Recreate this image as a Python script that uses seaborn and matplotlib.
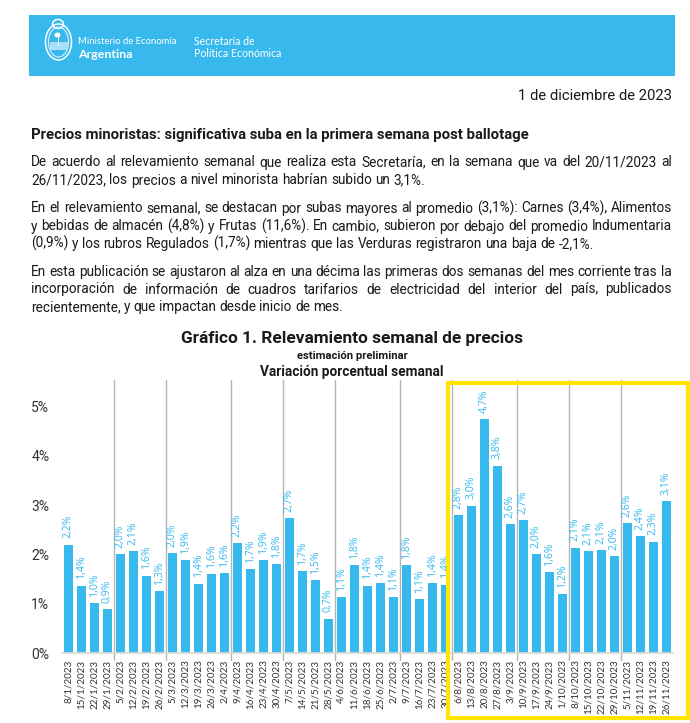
# boletin de precios: grafico semanal con encabezado y texto
import pandas as pd
import matplotlib.pyplot as plt
from matplotlib.patches import Rectangle, Ellipse
import seaborn as sns

sns.set_theme(style='white')
plt.rcParams['font.family'] = ['Roboto', 'DejaVu Sans']

BLUE = '#37b9ee'
INK = '#1a1a1a'

dates = ['8/1/2023', '15/1/2023', '22/1/2023', '29/1/2023',
         '5/2/2023', '12/2/2023', '19/2/2023', '26/2/2023',
         '5/3/2023', '12/3/2023', '19/3/2023', '26/3/2023', '2/4/2023',
         '9/4/2023', '16/4/2023', '23/4/2023', '30/4/2023',
         '7/5/2023', '14/5/2023', '21/5/2023', '28/5/2023',
         '4/6/2023', '11/6/2023', '18/6/2023', '25/6/2023', '2/7/2023',
         '9/7/2023', '16/7/2023', '23/7/2023', '30/7/2023',
         '6/8/2023', '13/8/2023', '20/8/2023', '27/8/2023', '3/9/2023',
         '10/9/2023', '17/9/2023', '24/9/2023', '1/10/2023',
         '8/10/2023', '15/10/2023', '22/10/2023', '29/10/2023',
         '5/11/2023', '12/11/2023', '19/11/2023', '26/11/2023']
values = [2.20, 1.37, 1.01, 0.89,
          2.01, 2.07, 1.57, 1.26,
          2.03, 1.89, 1.41, 1.61, 1.62,
          2.23, 1.70, 1.88, 1.80,
          2.74, 1.66, 1.48, 0.70,
          1.13, 1.78, 1.37, 1.42, 1.13,
          1.79, 1.10, 1.42, 1.39,
          2.80, 2.99, 4.74, 3.80, 2.62,
          2.69, 2.01, 1.64, 1.20,
          2.14, 2.07, 2.09, 1.96,
          2.63, 2.37, 2.26, 3.08]
# semanas por mes, para los separadores verticales
month_sizes = [4, 4, 5, 4, 4, 5, 4, 5, 4, 4, 4]
yticks = [0, 1, 2, 3, 4, 5]

title_bold = 'Precios minoristas: significativa suba en la primera semana post ballotage'
date_text = '1 de diciembre de 2023'
# (texto, baseline en px, borde derecho en px)
body = [
    ('De acuerdo al relevamiento semanal que realiza esta Secretaría, en la semana que va del 20/11/2023 al', 166.5, 672),
    ('26/11/2023, los precios a nivel minorista habrían subido un 3,1%.', 184.5, 425),
    ('En el relevamiento semanal, se destacan por subas mayores al promedio (3,1%): Carnes (3,4%), Alimentos', 212.5, 672),
    ('y bebidas de almacén (4,8%) y Frutas (11,6%). En cambio, subieron por debajo del promedio Indumentaria', 230.5, 672),
    ('(0,9%) y los rubros Regulados (1,7%) mientras que las Verduras registraron una baja de -2,1%.', 248, 594),
    ('En esta publicación se ajustaron al alza en una décima las primeras dos semanas del mes corriente tras la', 276, 672),
    ('incorporación de información de cuadros tarifarios de electricidad del interior del país, publicados', 293.5, 672),
    ('recientemente, y que impactan desde inicio de mes.', 311, 343),
]

W, H = 690, 723
fig = plt.figure(figsize=(W / 100, H / 100), dpi=100)

# capa en pixeles para encabezado y texto
page = fig.add_axes([0, 0, 1, 1], zorder=1)
page.set_xlim(0, W)
page.set_ylim(H, 0)
page.axis('off')

page.add_patch(Rectangle((29, 15), 646, 61, color=BLUE, lw=0))
page.add_patch(Ellipse((58.5, 42), 26, 36, fill=False, ec='white', lw=1.1))
page.add_patch(Ellipse((58.5, 42), 20, 30, fill=False, ec='#d8f1fb', lw=0.8))
page.add_patch(Ellipse((58, 24), 11, 9, fill=False, ec='white', lw=1.1))
page.add_patch(Rectangle((49.5, 42), 18, 8, color='#a8e0f7', lw=0))
page.add_patch(Rectangle((57.5, 34), 1.6, 12, color='white', lw=0))
page.add_patch(Ellipse((57.5, 35), 6, 5, color='white', lw=0))
page.text(78.5, 44, 'Ministerio de Economía', color='white', fontsize=6.8,
          family='Lato', va='baseline')
page.text(78.5, 57.5, 'Argentina', color='white', fontsize=8.9, weight='bold',
          family='Lato', va='baseline')
page.text(194, 45, 'Secretaría de', color='white', fontsize=7.6,
          family='Lato', va='baseline')
page.text(194, 57, 'Política Económica', color='white', fontsize=7.6,
          family='Lato', va='baseline')

page.text(672, 100, date_text, ha='right', va='baseline', color=INK, fontsize=10.7)
page.text(31, 139, title_bold, va='baseline', color=INK, fontsize=10.7, weight='bold')

fig.canvas.draw()
renderer = fig.canvas.get_renderer()


def text_width(s, size):
    t = page.text(0, 0, s, fontsize=size)
    w = t.get_window_extent(renderer).width
    t.remove()
    return w


BODY_SIZE = 9.85
LEFT = 31
for line, base, right in body:
    words = line.split()
    widths = [text_width(w, BODY_SIZE) for w in words]
    gap = (right - LEFT - sum(widths)) / (len(words) - 1)
    x = LEFT
    for word, w in zip(words, widths):
        page.text(x, base, word, va='baseline', color=INK, fontsize=BODY_SIZE)
        x += w + gap

page.text(352, 343, 'Gráfico 1. Relevamiento semanal de precios', ha='center',
          va='baseline', color=INK, fontsize=12.45, weight='bold')
page.text(352, 359, 'estimación preliminar', ha='center', va='baseline',
          color=INK, fontsize=8.1, weight='bold')
page.text(352, 376, 'Variación porcentual semanal', ha='center', va='baseline',
          color=INK, fontsize=9.8, weight='bold')

# grafico de barras
ax_left, ax_right, ax_top, ax_bottom = 61.8, 672.8, 380, 653.3
ax = fig.add_axes([ax_left / W, 1 - ax_bottom / H,
                   (ax_right - ax_left) / W, (ax_bottom - ax_top) / H], zorder=2)
ax.patch.set_alpha(0)

df = pd.DataFrame({'fecha': dates, 'variacion': values})
sns.barplot(data=df, x='fecha', y='variacion', color=BLUE, saturation=1,
            width=0.7, linewidth=0, ax=ax)
ax.set_xlim(-0.5, len(dates) - 0.5)
ax.set_ylim(0, (ax_bottom - ax_top) / 49.4)
ax.set_xlabel('')
ax.set_ylabel('')

ax.bar_label(ax.containers[0],
             labels=[f'{v:.1f}%'.replace('.', ',') for v in values],
             rotation=90, color=BLUE, fontsize=7.6, family='Open Sans', padding=4.5)

ax.set_yticks(yticks)
ax.set_yticklabels([f'{v}%' for v in yticks], fontsize=10, color='#333333')
ax.tick_params(axis='y', length=0, pad=9)
ax.set_xticks(range(len(dates)))
ax.set_xticklabels(dates, rotation=90, fontsize=7.1, color='#333333', family='Lato')
ax.tick_params(axis='x', which='major', length=0, pad=4.5)
ax.set_xticks([i - 0.5 for i in range(len(dates) + 1)], minor=True)
ax.tick_params(axis='x', which='minor', length=2.5, width=0.8, color='#d9d9d9')

sns.despine(ax=ax, left=True)
ax.spines['bottom'].set_color('#d9d9d9')

# separadores entre meses
pos = 0
for size in month_sizes[:-1]:
    pos += size
    ax.axvline(pos - 0.5, ymin=-0.025, ymax=1, color='#b5b5b5', lw=1, clip_on=False)

# recuadro amarillo sobre los ultimos meses
overlay = fig.add_axes([0, 0, 1, 1], zorder=3)
overlay.set_xlim(0, W)
overlay.set_ylim(H, 0)
overlay.axis('off')
overlay.add_patch(Rectangle((448, 383), 240, 335, fill=False, ec='#ffe600', lw=3))

fig.savefig('out.png', dpi=100)
